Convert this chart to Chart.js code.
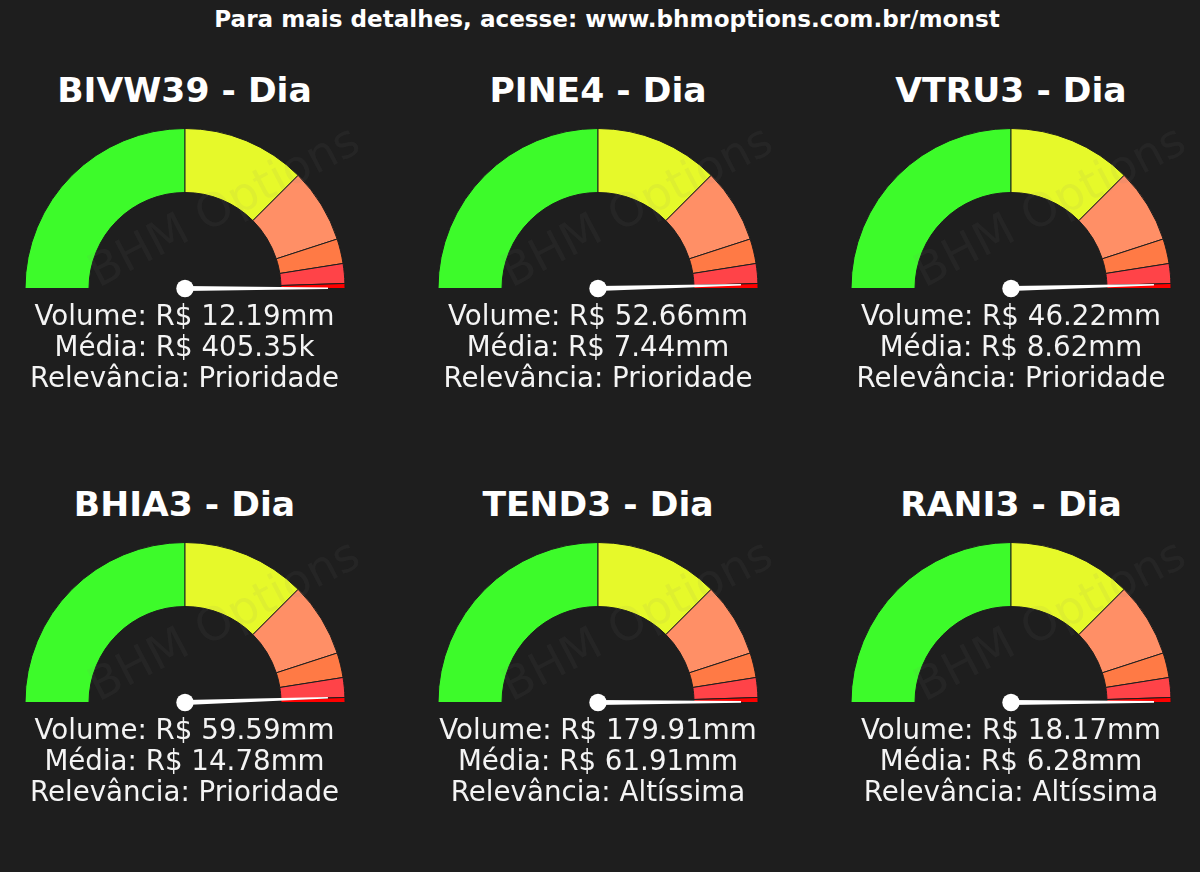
<!DOCTYPE html>
<html lang="pt">

<head>
    <meta charset="UTF-8">
    <title>BHM Options - Monst</title>
    <script src="https://cdn.jsdelivr.net/npm/chart.js"></script>
    <style>
        html, body {
            margin: 0;
            width: 1200px;
            height: 872px;
            overflow: hidden;
            background: #1e1e1e;
            color: #fff;
            font-family: "DejaVu Sans", sans-serif;
        }

        #header {
            position: absolute;
            left: 0;
            top: 4px;
            width: 1214px;
            text-align: center;
            font-size: 23.1px;
            font-weight: bold;
            line-height: 30px;
        }

        .gauge {
            position: absolute;
            width: 400px;
            height: 400px;
        }

        .gauge h2 {
            position: absolute;
            left: 0;
            top: 0;
            width: 100%;
            margin: 0;
            text-align: center;
            font-size: 34.6px;
            line-height: 44px;
        }

        .gauge canvas {
            position: absolute;
            left: 0;
            top: 60px;
        }

        .gauge p {
            position: absolute;
            left: 0;
            top: 232px;
            width: 100%;
            margin: 0;
            text-align: center;
            font-size: 27.7px;
            line-height: 31px;
            color: #f4f4f4;
        }
    </style>
</head>

<body>
    <div id="header">Para mais detalhes, acesse: www.bhmoptions.com.br/monst</div>
    <div id="gauges"></div>

    <script>
        const tickers = ['BIVW39', 'PINE4', 'VTRU3', 'BHIA3', 'TEND3', 'RANI3'];
        const volumes = ['12.19mm', '52.66mm', '46.22mm', '59.59mm', '179.91mm', '18.17mm'];
        const medias = ['405.35k', '7.44mm', '8.62mm', '14.78mm', '61.91mm', '6.28mm'];
        const relevancias = ['Prioridade', 'Prioridade', 'Prioridade', 'Prioridade', 'Altíssima', 'Altíssima'];
        // needle position on the same 0-100 scale as the bands
        const needles = [99.95, 99.17, 99.17, 98.95, 99.85, 99.85];
        const bands = [50, 25, 15, 5, 4, 1];
        const bandColors = ['#3dfb2a', '#e6f92a', '#ff8f66', '#ff7a45', '#ff4348', '#ff0000'];
        const lefts = [-15.5, 398, 811];
        const tops = [68, 482];

        const needlePlugin = {
            id: 'needle',
            afterDraw(chart, args, opts) {
                const arc = chart.getDatasetMeta(0).data[0];
                const ctx = chart.ctx;
                const ang = Math.PI * (1 - opts.value / 100);
                const len = 143;
                ctx.save();
                // watermark
                ctx.translate(arc.x, arc.y);
                ctx.save();
                ctx.translate(40, -80);
                ctx.rotate(-27.5 * Math.PI / 180);
                ctx.font = '46px "DejaVu Sans"';
                ctx.textAlign = 'center';
                ctx.textBaseline = 'middle';
                ctx.fillStyle = 'rgba(128,128,128,0.08)';
                ctx.fillText('BHM Options', 0, 0);
                ctx.restore();
                // needle, tapered towards the tip
                ctx.rotate(-ang);
                ctx.fillStyle = '#fff';
                ctx.beginPath();
                ctx.moveTo(0, -2.5);
                ctx.lineTo(len, -0.8);
                ctx.lineTo(len, 0.8);
                ctx.lineTo(0, 2.5);
                ctx.closePath();
                ctx.fill();
                ctx.rotate(ang);
                ctx.beginPath();
                ctx.arc(0, 0, 8.7, 0, Math.PI * 2);
                ctx.fill();
                ctx.restore();
            }
        };

        tickers.forEach((ticker, i) => {
            const box = document.createElement('div');
            box.className = 'gauge';
            box.style.left = lefts[i % 3] + 'px';
            box.style.top = tops[Math.floor(i / 3)] + 'px';
            box.innerHTML = '<h2>' + ticker + ' - Dia</h2><canvas width="400" height="180"></canvas>' +
                '<p>Volume: R$ ' + volumes[i] + '<br>Média: R$ ' + medias[i] + '<br>Relevância: ' + relevancias[i] + '</p>';
            document.getElementById('gauges').appendChild(box);

            new Chart(box.querySelector('canvas'), {
                type: 'doughnut',
                data: {
                    labels: bands.map(String),
                    datasets: [{
                        data: bands,
                        backgroundColor: bandColors,
                        borderColor: '#1e1e1e',
                        borderWidth: 1
                    }]
                },
                options: {
                    responsive: false,
                    animation: false,
                    rotation: -90,
                    circumference: 180,
                    cutout: '60%',
                    layout: { padding: { left: 39, right: 39, top: 0, bottom: 19 } },
                    plugins: {
                        legend: { display: false },
                        tooltip: { enabled: false },
                        needle: { value: needles[i] }
                    }
                },
                plugins: [needlePlugin]
            });
        });
    </script>
</body>

</html>
